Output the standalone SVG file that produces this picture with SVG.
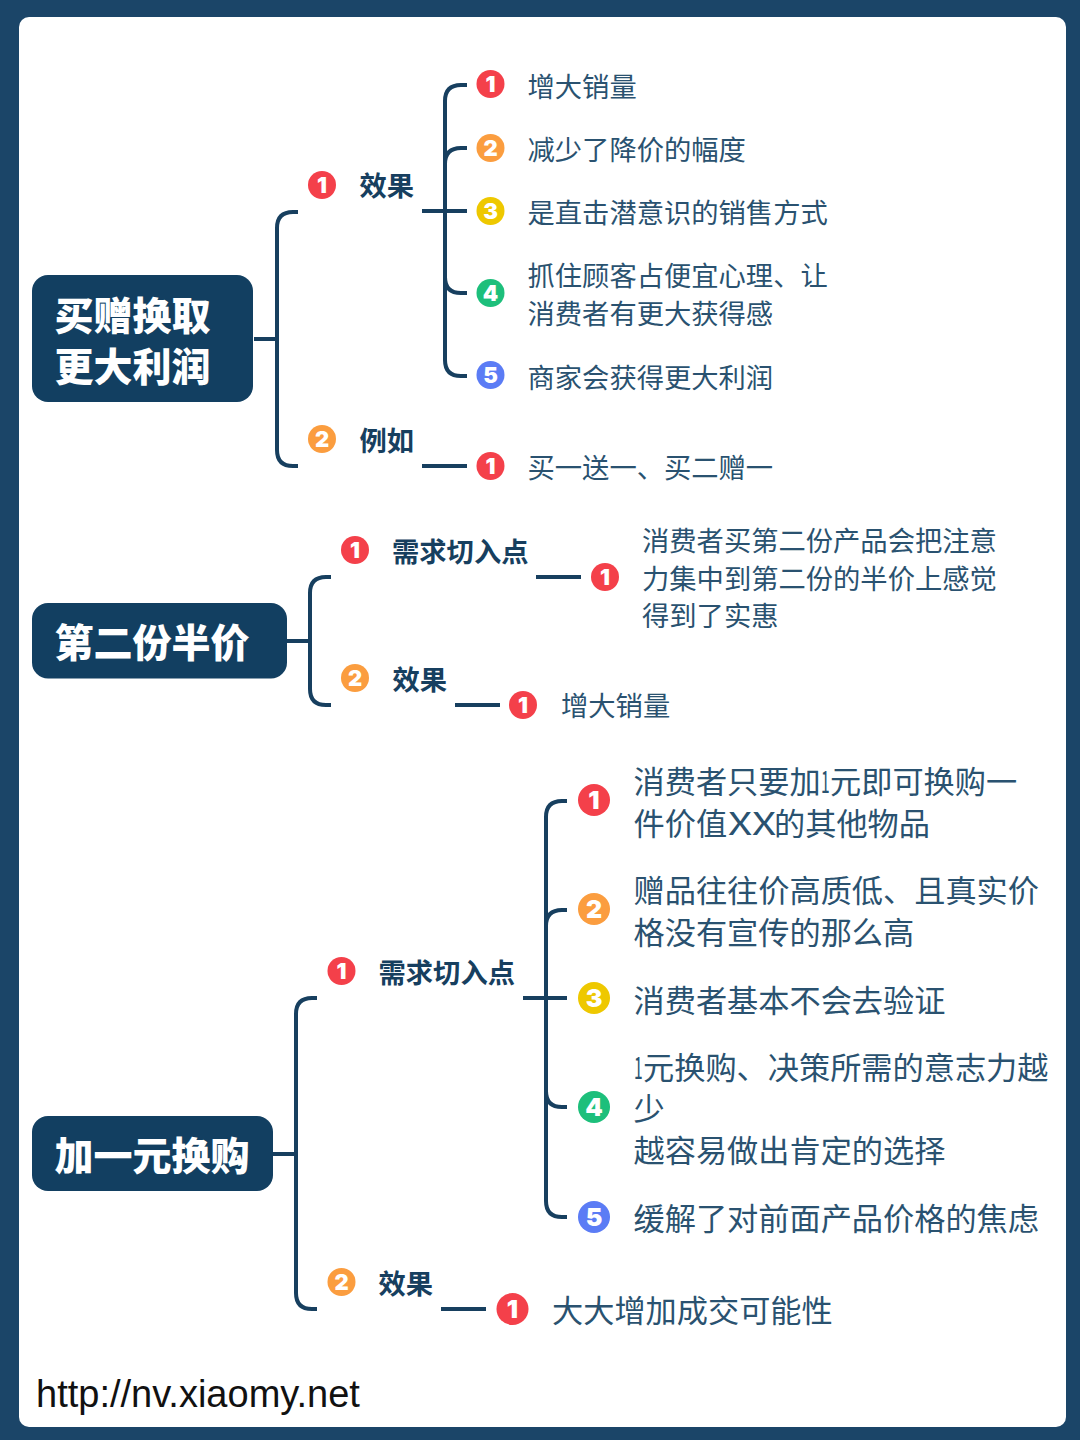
<svg xmlns="http://www.w3.org/2000/svg" width="1080" height="1440" viewBox="0 0 1080 1440">
<defs><style>
text{font-family:"Noto Sans CJK SC","Liberation Sans",sans-serif}
.t{fill:#2a5270;font-size:27.3px;font-weight:400}
.l{fill:#2a5270;font-size:31.2px;font-weight:400}
.b{fill:#173f5f;font-size:27.3px;font-weight:700}
.h{fill:#fff;font-size:39px;font-weight:900}
.n{fill:#123f61}
.c{fill:none;stroke:#173f5f;stroke-width:4;stroke-linecap:butt}
.d{font-family:"Inter","Liberation Sans",sans-serif;fill:#fff;font-weight:900;text-anchor:middle}
.r{fill:#f4404a}.o{fill:#fb9d3f}.y{fill:#eec800}.g{fill:#1dbf7b}.p{fill:#5b7cf5}
</style></defs>
<rect width="1080" height="1440" fill="#1b4568"/>
<rect x="19" y="17" width="1047" height="1410" rx="10" fill="#fff"/>
<g id="connectors">
<path class="c" d="M254 339H277M298 212H293Q277 212 277 228V450Q277 466 293 466H298"/>
<path class="c" d="M422 211H467M467 85H461Q445 85 445 101V360Q445 376 461 376H467M467 148H461Q445 148 445 164M445 277Q445 293 461 293H467M422 466H467"/>
<path class="c" d="M287 641H310M331 577H326Q310 577 310 593V689Q310 705 326 705H331"/>
<path class="c" d="M536 577H581M455 705H500"/>
<path class="c" d="M273 1154H296M317 998H312Q296 998 296 1014V1293Q296 1309 312 1309H317"/>
<path class="c" d="M523 998H567M567 801H562Q546 801 546 817V1201Q546 1217 562 1217H567M567 910H562Q546 910 546 926M546 1091Q546 1107 562 1107H567M441 1309H486"/>
</g>
<g id="root1"><rect class="n" x="32" y="275" width="221" height="127" rx="16"/><text class="h" x="54.5" y="330">买赠换取</text><text class="h" x="54.5" y="381">更大利润</text></g>
<g id="a1"><circle class="r" cx="322" cy="185" r="14"/><text class="d" x="322" y="193" font-size="22">1</text><text class="b" x="359.5" y="196">效果</text></g>
<g id="a1-1"><circle class="r" cx="490.5" cy="84" r="14"/><text class="d" x="490.5" y="92" font-size="22">1</text><text class="t" x="527.5" y="97">增大销量</text></g>
<g id="a1-2"><circle class="o" cx="490.5" cy="148" r="14"/><text class="d" x="490.5" y="156" font-size="22">2</text><text class="t" x="527.5" y="160">减少了降价的幅度</text></g>
<g id="a1-3"><circle class="y" cx="490.5" cy="211" r="14"/><text class="d" x="490.5" y="219" font-size="22">3</text><text class="t" x="527.5" y="223">是直击潜意识的销售方式</text></g>
<g id="a1-4"><circle class="g" cx="490.5" cy="293" r="14"/><text class="d" x="490.5" y="301" font-size="22">4</text><text class="t" x="527.5" y="286">抓住顾客占便宜心理、让</text><text class="t" x="527.5" y="324">消费者有更大获得感</text></g>
<g id="a1-5"><circle class="p" cx="490.5" cy="375" r="14"/><text class="d" x="490.5" y="383" font-size="22">5</text><text class="t" x="527.5" y="388">商家会获得更大利润</text></g>
<g id="a2"><circle class="o" cx="322" cy="439" r="14"/><text class="d" x="322" y="447" font-size="22">2</text><text class="b" x="359.5" y="451">例如</text></g>
<g id="a2-1"><circle class="r" cx="490.5" cy="466" r="14"/><text class="d" x="490.5" y="474" font-size="22">1</text><text class="t" x="527.5" y="478">买一送一、买二赠一</text></g>
<g id="root2"><rect class="n" x="32" y="603" width="255" height="75.5" rx="16"/><text class="h" x="54.5" y="657">第二份半价</text></g>
<g id="b1"><circle class="r" cx="355" cy="550" r="14"/><text class="d" x="355" y="558" font-size="22">1</text><text class="b" x="392" y="562">需求切入点</text></g>
<g id="b1-1"><circle class="r" cx="605" cy="577" r="14"/><text class="d" x="605" y="585" font-size="22">1</text><text class="t" x="642" y="551">消费者买第二份产品会把注意</text><text class="t" x="642" y="589">力集中到第二份的半价上感觉</text><text class="t" x="642" y="626">得到了实惠</text></g>
<g id="b2"><circle class="o" cx="355" cy="678" r="14"/><text class="d" x="355" y="686" font-size="22">2</text><text class="b" x="392.5" y="690">效果</text></g>
<g id="b2-1"><circle class="r" cx="523" cy="705" r="14"/><text class="d" x="523" y="713" font-size="22">1</text><text class="t" x="561" y="716">增大销量</text></g>
<g id="root3"><rect class="n" x="32" y="1116" width="241" height="75" rx="16"/><text class="h" x="54.5" y="1170">加一元换购</text></g>
<g id="c1"><circle class="r" cx="341.5" cy="971" r="14"/><text class="d" x="341.5" y="979" font-size="22">1</text><text class="b" x="378.5" y="983">需求切入点</text></g>
<g id="c1-1"><circle class="r" cx="594" cy="800" r="16"/><text class="d" x="594" y="809" font-size="25">1</text>
<text class="l" x="633.5" y="793">消费者只要加</text><text class="l" transform="translate(821 793) scale(.5 1)">1</text><text class="l" x="830" y="793">元即可换购一</text>
<text class="l" x="633.5" y="835">件价值</text><text class="l" transform="translate(728 835) scale(1.35 1)">XX</text><text class="l" x="774" y="835">的其他物品</text></g>
<g id="c1-2"><circle class="o" cx="594" cy="909" r="16"/><text class="d" x="594" y="918" font-size="25">2</text><text class="l" x="633.5" y="902">赠品往往价高质低、且真实价</text><text class="l" x="633.5" y="944">格没有宣传的那么高</text></g>
<g id="c1-3"><circle class="y" cx="594" cy="998" r="16"/><text class="d" x="594" y="1007" font-size="25">3</text><text class="l" x="633.5" y="1012">消费者基本不会去验证</text></g>
<g id="c1-4"><circle class="g" cx="594" cy="1107" r="16"/><text class="d" x="594" y="1116" font-size="25">4</text>
<text class="l" transform="translate(634 1079) scale(.5 1)">1</text><text class="l" x="643" y="1079">元换购、决策所需的意志力越</text><text class="l" x="633.5" y="1120">少</text><text class="l" x="633.5" y="1162">越容易做出肯定的选择</text></g>
<g id="c1-5"><circle class="p" cx="594" cy="1217" r="16"/><text class="d" x="594" y="1226" font-size="25">5</text><text class="l" x="633.5" y="1230">缓解了对前面产品价格的焦虑</text></g>
<g id="c2"><circle class="o" cx="341.5" cy="1282" r="14"/><text class="d" x="341.5" y="1290" font-size="22">2</text><text class="b" x="378.5" y="1294">效果</text></g>
<g id="c2-1"><circle class="r" cx="512.5" cy="1309" r="16"/><text class="d" x="512.5" y="1318" font-size="25">1</text><text class="l" x="552" y="1322">大大增加成交可能性</text></g>
<text x="36" y="1407" style="font-family:'Liberation Sans',Arial,sans-serif" font-size="38" fill="#111">http://nv.xiaomy.net</text>
</svg>
